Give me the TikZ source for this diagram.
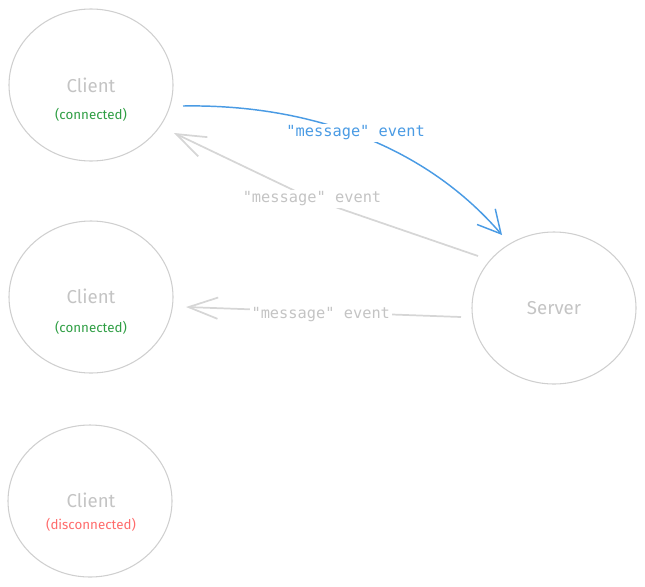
\documentclass[tikz,border=0pt]{standalone}
\usepackage{fontspec}
\setmainfont{Fira Sans}
\newfontfamily\monofont{DejaVu Sans Mono}
\usepackage{xcolor}
\usetikzlibrary{shapes.geometric}
\usetikzlibrary{arrows.meta}
\definecolor{ringgrey}{HTML}{CFCFCF}
\definecolor{linegrey}{HTML}{D6D6D6}
\definecolor{textgrey}{HTML}{C4C4C4}
\definecolor{okgreen}{HTML}{2F9E44}
\definecolor{badred}{HTML}{FF6B6B}
\definecolor{msgblue}{HTML}{4A9BE4}
\tikzset{
	ring/.style={ellipse,draw=ringgrey,line width=0.8pt,minimum width=123pt,minimum height=114pt,inner sep=0pt},
	name text/.style={text=textgrey,font=\fontsize{14}{16}\selectfont},
	state text/.style={font=\fontsize{10}{12}\selectfont},
	msg text/.style={fill=white,inner sep=1.5pt,font=\monofont\fontsize{11.5}{13}\selectfont},
	msg/.style={line width=1.1pt,-{Straight Barb[length=17pt,width=18pt,line width=1.1pt]}},
	reply/.style={line width=1.3pt,linegrey,-{Straight Barb[length=22pt,width=16pt,line width=1.3pt]}}
}
\begin{document}
\begin{tikzpicture}[x=0.75pt,y=-0.75pt]
\useasboundingbox (0,0) rectangle (645,586);
		\coordinate (C1) at (91,85);
		\coordinate (C2) at (91,297);
		\coordinate (C3) at (90,501);
		\coordinate (S) at (554,308);
		\draw (C1) node[ring] (client1) {};
		\draw (C2) node[ring] (client2) {};
		\draw (C3) node[ring] (client3) {};
		\draw (S) node[ring] (server) {};
		\draw (91,85) node[name text] (client1name) {Client};
		\draw (91,115) node[state text,text=okgreen] (client1state) {(connected)};
		\draw (91,296) node[name text] (client2name) {Client};
		\draw (91,328) node[state text,text=okgreen] (client2state) {(connected)};
		\draw (91,500) node[name text] (client3name) {Client};
		\draw (91,525) node[state text,text=badred] (client3state) {(disconnected)};
		\draw (554,308) node[name text] (servername) {Server};
		% arrow ends
		\coordinate (A) at (183,106);
		\coordinate (B) at (502,235);
		\coordinate (D) at (478,256);
		\coordinate (M) at (312,199);
		\coordinate (E) at (174,133);
		\coordinate (F) at (461,317);
		\coordinate (G) at (186,307);
		\draw[msg,msgblue] (A) .. controls (300,104) and (420,140) .. (B)
			node[pos=0.5,yshift=1pt,msg text,text=msgblue] (label1) {"message" event};
		\draw[reply] (D) -- (M) -- (E);
		\draw (M) node[msg text,text=textgrey] (label2) {"message" event};
		\draw[reply] (F) -- (G)
			node[pos=0.51,yshift=-2pt,msg text,text=textgrey] (label3) {"message" event};
\end{tikzpicture}
\end{document}
